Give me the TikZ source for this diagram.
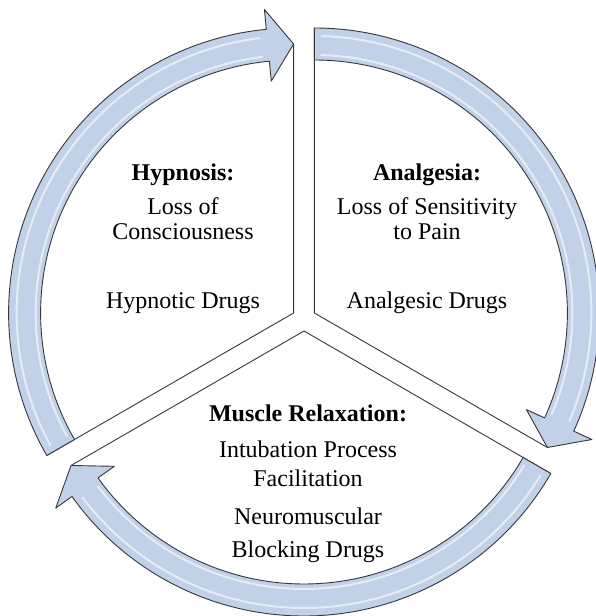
\documentclass[tikz,border=0pt]{standalone}
\usepackage{fontspec}
\setmainfont{Liberation Serif}
\definecolor{bandfill}{RGB}{192,209,232}
\definecolor{edgegray}{RGB}{55,55,60}
\tikzset{
  band/.style={fill=bandfill, draw=edgegray, line width=0.9pt, line join=round},
  divider/.style={draw=edgegray, line width=0.9pt, line join=miter},
  gloss/.style={draw=white, line width=2pt, opacity=0.6, line cap=round},
  lbl/.style={anchor=base, inner sep=0pt, font=\fontsize{24}{28}\selectfont},
  ttl/.style={anchor=base, inner sep=0pt, font=\fontsize{24}{28}\selectfont\bfseries},
}
% #1 apex coordinate, #2 start angle (flush end), #3 end angle (arrow tip)
\newcommand\cyclearrow[3]{%
  \pgfmathsetmacro\hbase{#3+5.5}%
  \pgfmathsetmacro\gs{#2-1.5}%
  \pgfmathsetmacro\ge{#3+7}%
  \draw[divider] ($(#1)+(#2:285pt)$) -- (#1) -- ($(#1)+(#3:269pt)$);
  \draw[band, shift={(#1)}] (#2:285pt) arc[start angle=#2, end angle=\hbase, radius=285pt]
    -- (\hbase:305pt) -- (#3:269pt) -- (\hbase:233pt) -- (\hbase:253pt)
    arc[start angle=\hbase, end angle=#2, radius=253pt] -- cycle;
  \draw[gloss, shift={(#1)}] (\gs:277pt) arc[start angle=\gs, end angle=\ge, radius=277pt];
  \draw[gloss, shift={(#1)}] (\gs:258pt) arc[start angle=\gs, end angle=\ge, radius=258pt];
}
\usetikzlibrary{calc}
\begin{document}
\begin{tikzpicture}[x=1pt,y=1pt]
  \useasboundingbox (0,0) rectangle (596,616);
  \fill[white] (0,0) rectangle (596,616);
  \clip (0,0) rectangle (596,616);
  \coordinate (apexL) at (293.6,303);
  \coordinate (apexR) at (314.4,303);
  \coordinate (apexB) at (304,285);
  \cyclearrow{apexL}{210}{90}
  \cyclearrow{apexR}{90}{-30}
  \cyclearrow{apexB}{-30}{-150}
  % Hypnosis
  \node[ttl] (hyp) at (183,435) {Hypnosis:};
  \node[lbl] (hyp1) at (183,401) {Loss of};
  \node[lbl] (hyp2) at (183,376) {Consciousness};
  \node[lbl] (hyp3) at (183,307) {Hypnotic Drugs};
  % Analgesia
  \node[ttl] (ana) at (427,435) {Analgesia:};
  \node[lbl] (ana1) at (427,401) {Loss of Sensitivity};
  \node[lbl] (ana2) at (427,376) {to Pain};
  \node[lbl] (ana3) at (427,307) {Analgesic Drugs};
  % Muscle relaxation
  \node[ttl] (mus) at (308,194) {Muscle Relaxation:};
  \node[lbl] (mus1) at (308,158) {Intubation Process};
  \node[lbl] (mus2) at (308,129) {Facilitation};
  \node[lbl] (mus3) at (308,91) {Neuromuscular};
  \node[lbl] (mus4) at (308,58) {Blocking Drugs};
\end{tikzpicture}
\end{document}
